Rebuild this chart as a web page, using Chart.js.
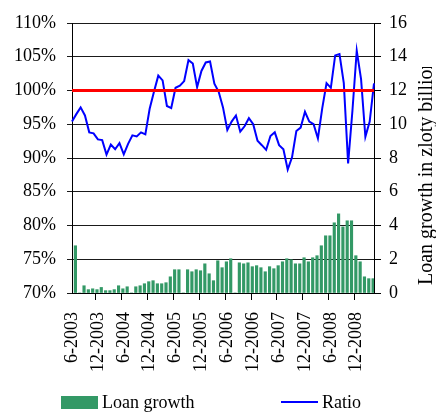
<!DOCTYPE html>
<html>
<head>
<meta charset="utf-8">
<script src="https://cdn.jsdelivr.net/npm/chart.js@4.4.1/dist/chart.umd.min.js"></script>
<style>
  html, body { margin: 0; padding: 0; background: #fff; }
  #wrap { width: 436px; height: 412px; position: relative; }
</style>
</head>
<body>
<div id="wrap"><canvas id="chart"></canvas></div>
<script>
// month labels (line points sit on these ticks)
var months = [
  '6-2003', '7-2003', '8-2003', '9-2003', '10-2003', '11-2003', '12-2003',
  '1-2004', '2-2004', '3-2004', '4-2004', '5-2004', '6-2004', '7-2004', '8-2004', '9-2004', '10-2004', '11-2004', '12-2004',
  '1-2005', '2-2005', '3-2005', '4-2005', '5-2005', '6-2005', '7-2005', '8-2005', '9-2005', '10-2005', '11-2005', '12-2005',
  '1-2006', '2-2006', '3-2006', '4-2006', '5-2006', '6-2006', '7-2006', '8-2006', '9-2006', '10-2006', '11-2006', '12-2006',
  '1-2007', '2-2007', '3-2007', '4-2007', '5-2007', '6-2007', '7-2007', '8-2007', '9-2007', '10-2007', '11-2007', '12-2007',
  '1-2008', '2-2008', '3-2008', '4-2008', '5-2008', '6-2008', '7-2008', '8-2008', '9-2008', '10-2008', '11-2008', '12-2008',
  '1-2009', '2-2009', '3-2009', '4-2009'
];

// loan growth, zloty billion (one bar per month, between ticks)
var loanGrowth = [
  2.8, 0, 0.43, 0.2, 0.25, 0.2, 0.33, 0.14, 0.14, 0.2,
  0.43, 0.25, 0.37, 0, 0.37, 0.43, 0.55, 0.67, 0.73, 0.55,
  0.55, 0.61, 0.96, 1.38, 1.38, 0, 1.38, 1.26, 1.38, 1.32,
  1.73, 1.14, 0.73, 1.91, 1.5, 1.85, 2.03, 0, 1.79, 1.73,
  1.79, 1.56, 1.62, 1.5, 1.26, 1.56, 1.44, 1.62, 1.85, 2.03,
  1.97, 1.73, 1.73, 2.09, 1.85, 2.09, 2.21, 2.8, 3.39, 3.39,
  4.16, 4.69, 3.92, 4.28, 4.28, 2.21, 1.85, 0.96, 0.85, 0.85
];

// ratio, percent
var ratio = [
  95.4, 96.5, 97.5, 96.3, 93.8, 93.65, 92.75, 92.65, 90.5, 92.0,
  91.3, 92.2, 90.55, 92.1, 93.35, 93.2, 93.8, 93.5, 97.3, 99.8,
  102.2, 101.5, 97.7, 97.4, 100.4, 100.7, 101.4, 104.5, 104.0, 100.5,
  102.9, 104.15, 104.3, 101.0, 99.8, 97.5, 94.15, 95.4, 96.3, 93.9,
  94.7, 95.9, 95.0, 92.55, 91.9, 91.2, 93.25, 93.8, 91.9, 91.3,
  88.3, 90.1, 94.0, 94.5, 96.85, 95.4, 95.0, 92.9, 97.35, 101.1,
  100.4, 105.2, 105.4, 101.1, 89.2, 97.0, 105.9, 101.7, 93.15, 95.4,
  101.05
];

var parity = 100;
var tickLabels = ['6-2003', '12-2003', '6-2004', '12-2004', '6-2005', '12-2005',
  '6-2006', '12-2006', '6-2007', '12-2007', '6-2008', '12-2008'];

var serif = 'Liberation Serif';
var green = '#339966';
var blue = '#0000ff';
var red = '#ff0000';

var bottomLegend = {
  id: 'bottomLegend',
  afterDraw: function (chart) {
    var ctx = chart.ctx;
    var bars = chart.data.datasets[2];
    var line = chart.data.datasets[1];
    ctx.save();
    ctx.font = '18px "' + serif + '"';
    ctx.textBaseline = 'alphabetic';
    ctx.fillStyle = bars.backgroundColor;
    ctx.fillRect(61, 396, 37, 13);
    ctx.fillStyle = '#000';
    ctx.fillText(bars.label, 102, 408);
    ctx.strokeStyle = line.borderColor;
    ctx.lineWidth = 2;
    ctx.beginPath();
    ctx.moveTo(281, 402);
    ctx.lineTo(318, 402);
    ctx.stroke();
    ctx.fillText(line.label, 322, 408);
    ctx.restore();
  }
};

// right axis title, drawn bottom-to-top and cut at the top like the original
var rightTitle = {
  id: 'rightTitle',
  afterDraw: function (chart) {
    var ctx = chart.ctx;
    ctx.save();
    ctx.beginPath();
    ctx.rect(400, 67, 36, 345);
    ctx.clip();
    ctx.translate(432, 285);
    ctx.rotate(-Math.PI / 2);
    ctx.font = '20px "' + serif + '"';
    ctx.fillStyle = '#000';
    ctx.textAlign = 'left';
    ctx.textBaseline = 'alphabetic';
    ctx.fillText('Loan growth in zloty billion', 0, 0);
    ctx.restore();
  }
};

var ctx = document.getElementById('chart').getContext('2d');
var chart = new Chart(ctx, {
  type: 'bar',
  data: {
    labels: months,
    datasets: [
      {
        type: 'line',
        label: 'Parity',
        data: [{ x: months[0], y: parity }, { x: months[months.length - 1], y: parity }],
        xAxisID: 'x',
        yAxisID: 'y',
        borderColor: red,
        borderWidth: 3,
        pointRadius: 0,
        clip: false,
        order: 0
      },
      {
        type: 'line',
        label: 'Ratio',
        data: ratio,
        xAxisID: 'x',
        yAxisID: 'y',
        borderColor: blue,
        backgroundColor: blue,
        borderWidth: 2,
        pointRadius: 0,
        tension: 0,
        order: 1
      },
      {
        type: 'bar',
        label: 'Loan growth',
        data: loanGrowth,
        xAxisID: 'xBar',
        yAxisID: 'y2',
        backgroundColor: green,
        borderWidth: 0,
        barThickness: 2.5,
        order: 2
      }
    ]
  },
  options: {
    responsive: true,
    maintainAspectRatio: false,
    animation: false,
    layout: { padding: { top: 23, bottom: 24, left: 0, right: 0 } },
    plugins: {
      legend: { display: false },
      tooltip: { enabled: false }
    },
    scales: {
      x: {
        type: 'category',
        position: 'bottom',
        offset: false,
        afterFit: function (scale) { scale.height = 95; },
        grid: {
          drawOnChartArea: false,
          tickLength: 7,
          color: function (c) {
            return c.tick && tickLabels.indexOf(c.tick.label) >= 0 ? '#000' : 'rgba(0,0,0,0)';
          }
        },
        border: { color: '#000', width: 1 },
        ticks: {
          autoSkip: false,
          minRotation: 90,
          maxRotation: 90,
          padding: 12,
          color: '#000',
          font: { family: serif, size: 18 },
          callback: function (v, i) {
            var lab = months[i];
            return tickLabels.indexOf(lab) >= 0 ? lab : '';
          }
        }
      },
      xBar: {
        type: 'category',
        labels: months.slice(0, loanGrowth.length),
        display: false,
        offset: true
      },
      y: {
        position: 'left',
        min: 70,
        max: 110,
        afterFit: function (scale) { scale.width = 72; },
        ticks: {
          stepSize: 5,
          padding: 11,
          color: '#000',
          font: { family: serif, size: 18 },
          callback: function (v) { return v + '%'; }
        },
        grid: { color: '#1a1a1a', lineWidth: 1, tickLength: 5 },
        border: { color: '#000', width: 1 }
      },
      y2: {
        position: 'right',
        min: 0,
        max: 16,
        afterFit: function (scale) { scale.width = 62; },
        ticks: {
          stepSize: 2,
          padding: 8,
          color: '#000',
          font: { family: serif, size: 18 }
        },
        grid: { drawOnChartArea: false, color: '#000', tickLength: 7 },
        border: { color: '#000', width: 1 }
      }
    }
  },
  plugins: [bottomLegend, rightTitle]
});
</script>
</body>
</html>
